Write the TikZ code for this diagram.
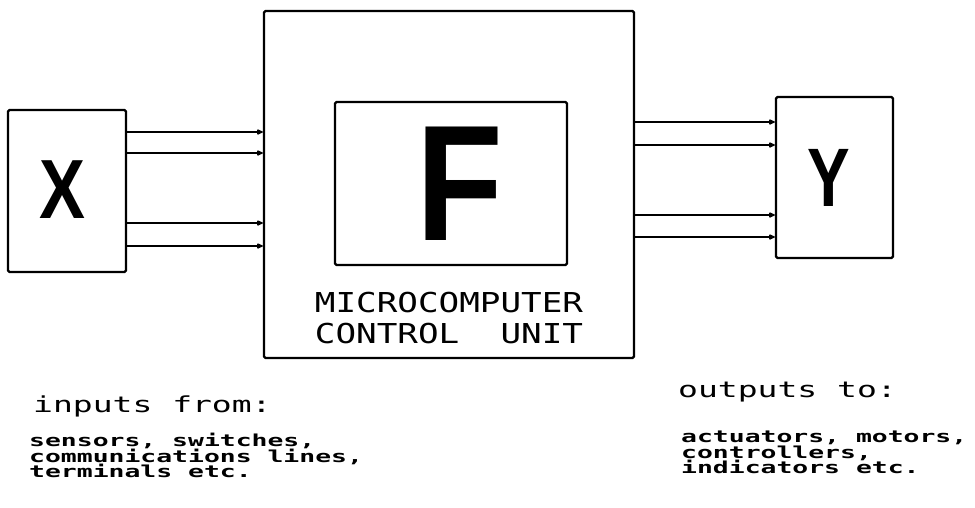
\documentclass[tikz,border=0pt]{standalone}
\usepackage{graphicx}
\usepackage{fontspec}
\setmainfont{Liberation Sans}
\newfontfamily\letterfont{Liberation Sans Bold}
\newfontfamily\plotfont[FakeStretch=1.5]{DejaVu Sans Mono}
\newfontfamily\smallplotfont[FakeStretch=1.6]{DejaVu Sans Mono Bold}
\newfontfamily\capfont[FakeStretch=1.25]{DejaVu Sans Mono}
\usetikzlibrary{arrows.meta}
\begin{document}
\begin{tikzpicture}[x=1pt,y=-1pt, line width=2.4pt, line join=round,
  box/.style={draw, rounded corners=1.5pt, inner sep=0pt},
  conn/.style={-{Latex[length=8pt,width=6.5pt,round]}},
  bigletter/.style={inner sep=0pt, font=\letterfont\fontsize{#1}{#1}\selectfont},
  head/.style={anchor=base west, inner sep=0pt, font=\plotfont\fontsize{22}{22}\selectfont},
  detail/.style={anchor=base west, inner sep=0pt, font=\smallplotfont\fontsize{16.5}{16.5}\selectfont},
  caps/.style={anchor=base, inner sep=0pt, font=\capfont\fontsize{27.4}{27.4}\selectfont}]
\useasboundingbox (0,0) rectangle (975,507);

% boxes
\node[box, minimum width=118pt, minimum height=162pt] (X) at (67,191) {};
\node[box, minimum width=370pt, minimum height=347pt] (main) at (449,184.5) {};
\node[box, minimum width=232pt, minimum height=163pt] (inner) at (451,183.5) {};
\node[box, minimum width=117pt, minimum height=161pt] (Y) at (834.5,177.5) {};

% letters
\node[bigletter=84] (xl) at (62.5,190) {\scalebox{0.82}[1]{X}};
\node[bigletter=83] (yl) at (829,178) {\scalebox{0.77}[1]{Y}};
\node[bigletter=165] (fl) at (459.5,184) {\scalebox{0.86}[1]{F}};

% unit label
\node[caps] (mc) at (449,312) {MICROCOMPUTER};
\node[caps] (cu) at (449,343) {CONTROL\ \ UNIT};

% input connectors
\foreach \yy in {132,153,223,246}
  \draw[conn] (X.east |- 0,\yy) -- (main.west |- 0,\yy);
% output connectors
\foreach \yy in {122,145,215,237}
  \draw[conn] (main.east |- 0,\yy) -- (Y.west |- 0,\yy);

% bottom texts
\node[head] (inh) at (32,412) {inputs from:};
\node[detail] (in1) at (28,446) {sensors, switches,};
\node[detail] (in2) at (28,462) {communications lines,};
\node[detail] (in3) at (28,477) {terminals etc.};

\node[head] (outh) at (677,397) {outputs to:};
\node[detail] (out1) at (680,442) {actuators, motors,};
\node[detail] (out2) at (680,458) {controllers,};
\node[detail] (out3) at (680,473) {indicators etc.};
\end{tikzpicture}
\end{document}
